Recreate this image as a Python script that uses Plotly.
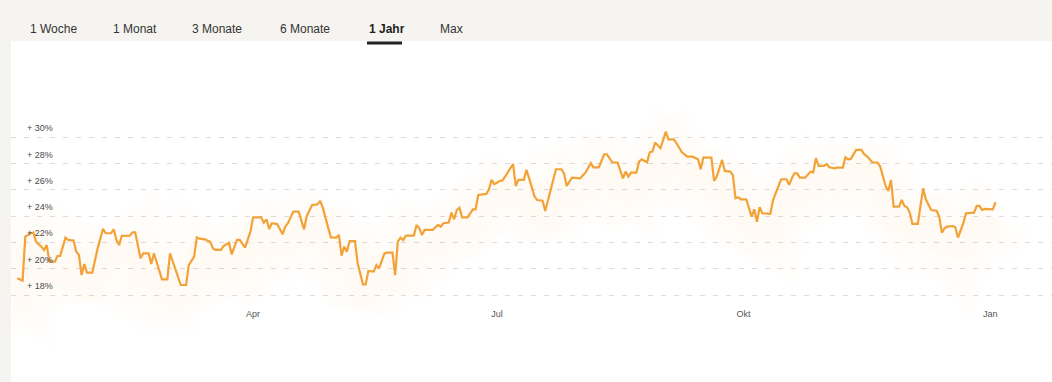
import plotly.graph_objects as go

dates = [
    "2024-01-04", "2024-01-06", "2024-01-07", "2024-01-09", "2024-01-10", "2024-01-11", "2024-01-13",
    "2024-01-14", "2024-01-15", "2024-01-16", "2024-01-18", "2024-01-19", "2024-01-20", "2024-01-22",
    "2024-01-23", "2024-01-25", "2024-01-26", "2024-01-27", "2024-01-28", "2024-01-29", "2024-01-30",
    "2024-02-01", "2024-02-03", "2024-02-05", "2024-02-06", "2024-02-08", "2024-02-09", "2024-02-10",
    "2024-02-11", "2024-02-12", "2024-02-15", "2024-02-16", "2024-02-17", "2024-02-19", "2024-02-20",
    "2024-02-22", "2024-02-23", "2024-02-24", "2024-02-27", "2024-02-29", "2024-03-01", "2024-03-02",
    "2024-03-05", "2024-03-07", "2024-03-08", "2024-03-10", "2024-03-11", "2024-03-12", "2024-03-14",
    "2024-03-16", "2024-03-17", "2024-03-18", "2024-03-20", "2024-03-21", "2024-03-23", "2024-03-24",
    "2024-03-26", "2024-03-27", "2024-03-29", "2024-03-31", "2024-04-01", "2024-04-04",
    "2024-04-05", "2024-04-06", "2024-04-07", "2024-04-08", "2024-04-10", "2024-04-12", "2024-04-13",
    "2024-04-14", "2024-04-16", "2024-04-18", "2024-04-20", "2024-04-21", "2024-04-23", "2024-04-25",
    "2024-04-26", "2024-04-27", "2024-04-29", "2024-04-30", "2024-05-02", "2024-05-03", "2024-05-04",
    "2024-05-05", "2024-05-06", "2024-05-07", "2024-05-09", "2024-05-10", "2024-05-12", "2024-05-13",
    "2024-05-14", "2024-05-16", "2024-05-17", "2024-05-18", "2024-05-20", "2024-05-21", "2024-05-23",
    "2024-05-24", "2024-05-25", "2024-05-26", "2024-05-27", "2024-05-28", "2024-05-31", "2024-06-01",
    "2024-06-02", "2024-06-03", "2024-06-04", "2024-06-07", "2024-06-08", "2024-06-09", "2024-06-10",
    "2024-06-11", "2024-06-13", "2024-06-14", "2024-06-15", "2024-06-16", "2024-06-17", "2024-06-18",
    "2024-06-20", "2024-06-22", "2024-06-23", "2024-06-24", "2024-06-27", "2024-06-28", "2024-06-29",
    "2024-06-30", "2024-07-02", "2024-07-03", "2024-07-04", "2024-07-06", "2024-07-07", "2024-07-08",
    "2024-07-09", "2024-07-11", "2024-07-12", "2024-07-13", "2024-07-15", "2024-07-16", "2024-07-18",
    "2024-07-19", "2024-07-21", "2024-07-23", "2024-07-25", "2024-07-26", "2024-07-27", "2024-07-28",
    "2024-07-29", "2024-08-01", "2024-08-02", "2024-08-03", "2024-08-05", "2024-08-06", "2024-08-08",
    "2024-08-10", "2024-08-11", "2024-08-12", "2024-08-13", "2024-08-15", "2024-08-16", "2024-08-17",
    "2024-08-18", "2024-08-19", "2024-08-20", "2024-08-22", "2024-08-23", "2024-08-24", "2024-08-26",
    "2024-08-27", "2024-08-28", "2024-08-29", "2024-08-31", "2024-09-02", "2024-09-03", "2024-09-05",
    "2024-09-06", "2024-09-08", "2024-09-10", "2024-09-12", "2024-09-14", "2024-09-15", "2024-09-16",
    "2024-09-19", "2024-09-20", "2024-09-21", "2024-09-23", "2024-09-24", "2024-09-26", "2024-09-27",
    "2024-09-28", "2024-09-29", "2024-09-30", "2024-10-02", "2024-10-04", "2024-10-05", "2024-10-06",
    "2024-10-07", "2024-10-08", "2024-10-11", "2024-10-12", "2024-10-14", "2024-10-15", "2024-10-17",
    "2024-10-18", "2024-10-19", "2024-10-20", "2024-10-21", "2024-10-22", "2024-10-24", "2024-10-25",
    "2024-10-26", "2024-10-27", "2024-10-28", "2024-10-29", "2024-10-31", "2024-11-01", "2024-11-02",
    "2024-11-04", "2024-11-05", "2024-11-07", "2024-11-08", "2024-11-09", "2024-11-10", "2024-11-12",
    "2024-11-14", "2024-11-15", "2024-11-16", "2024-11-18", "2024-11-20", "2024-11-21", "2024-11-22",
    "2024-11-23", "2024-11-24", "2024-11-25", "2024-11-26", "2024-11-28", "2024-11-29", "2024-11-30",
    "2024-12-01", "2024-12-02", "2024-12-03", "2024-12-05", "2024-12-07", "2024-12-08", "2024-12-10",
    "2024-12-12", "2024-12-13", "2024-12-14", "2024-12-15", "2024-12-16", "2024-12-18", "2024-12-19",
    "2024-12-20", "2024-12-22", "2024-12-23", "2024-12-25", "2024-12-26", "2024-12-27", "2024-12-28",
    "2024-12-29", "2024-12-30", "2025-01-02", "2025-01-03",
]

values = [
    19.27, 19.10, 22.44, 22.70, 22.75, 22.06, 21.68,
    21.43, 21.80, 20.54, 20.54, 20.97, 20.97, 22.37,
    22.19, 22.14, 21.30, 21.05, 19.52, 20.36, 19.70,
    19.70, 21.55, 23.03, 22.70, 22.70, 23.00, 22.19,
    21.80, 22.50, 22.52, 22.77, 22.77, 20.79, 21.17,
    21.17, 20.36, 21.17, 19.19, 19.19, 21.17, 20.54,
    18.76, 18.76, 20.28, 20.92, 22.39, 22.29, 22.24,
    22.04, 21.55, 21.43, 21.43, 21.73, 21.98, 21.10,
    22.19, 22.19, 21.60, 22.82, 23.91, 23.91,
    23.50, 23.76, 23.03, 23.46, 23.40, 22.62, 23.20,
    23.46, 24.35, 24.35, 23.00, 24.00, 24.85, 24.90,
    25.16, 24.65, 23.20, 22.39, 22.37, 22.57, 21.00,
    21.68, 21.30, 22.11, 22.11, 20.41, 18.81, 18.81,
    19.83, 19.78, 20.28, 20.03, 21.17, 21.22, 21.22,
    19.52, 22.06, 22.37, 22.19, 22.52, 22.52, 23.33,
    23.08, 22.57, 22.95, 22.95, 23.15, 23.33, 23.20,
    23.46, 23.51, 24.27, 23.76, 24.47, 24.65, 23.91,
    23.91, 24.52, 24.52, 25.61, 25.69, 26.05, 26.76,
    26.43, 26.68, 26.70, 27.00, 27.64, 27.97, 26.30,
    26.76, 26.76, 27.52, 26.88, 25.49, 25.23, 25.18,
    24.40, 26.00, 27.57, 27.57, 27.26, 26.30, 26.63,
    26.93, 26.88, 27.06, 27.31, 28.03, 27.72, 27.72,
    28.71, 28.71, 28.41, 28.10, 28.08, 27.52, 26.88,
    27.39, 27.01, 27.31, 27.31, 28.15, 28.33, 28.10,
    28.86, 28.91, 29.60, 29.17, 30.44, 29.85, 29.85,
    29.55, 28.86, 28.53, 28.53, 28.33, 27.57, 28.46,
    28.46, 26.68, 27.01, 28.28, 27.44, 27.39, 27.14,
    25.36, 25.44, 25.28, 25.28, 23.96, 24.52, 23.58,
    24.68, 24.22, 24.17, 25.23, 26.30, 26.81, 26.81,
    26.38, 26.88, 27.26, 27.26, 26.93, 26.93, 27.19,
    27.39, 27.34, 28.41, 27.82, 27.82, 27.97, 27.72,
    27.64, 27.70, 27.70, 28.48, 28.33, 28.36, 29.04,
    29.04, 28.71, 28.58, 28.10, 28.08, 27.77, 27.06,
    26.30, 25.92, 26.76, 24.73, 24.73, 25.23, 24.78,
    24.68, 24.27, 23.41, 23.41, 26.12, 25.28, 24.47,
    24.42, 23.96, 22.75, 23.08, 23.20, 23.25, 23.15,
    22.37, 23.46, 24.22, 24.27, 24.27, 24.78, 24.78,
    24.47, 24.55, 24.52, 25.06,
]

y_ticks = [18, 20, 22, 24, 26, 28, 30]
y_tick_labels = ["+ 18%", "+ 20%", "+ 22%", "+ 24%", "+ 26%", "+ 28%", "+ 30%"]

x_ticks = ["2024-04-01", "2024-07-01", "2024-10-01", "2025-01-01"]
x_tick_labels = ["Apr", "Jul", "Okt", "Jan"]

tabs = ["1 Woche", "1 Monat", "3 Monate", "6 Monate", "1 Jahr", "Max"]
active_tab = "1 Jahr"

W, H = 1052, 382
LINE = "rgb(242,162,54)"
Y_RANGE = [11.38, 37.33]
X_RANGE = ["2024-01-01 16:00", "2025-01-24 02:00"]
GLOW_SHIFT = 1.2
FONT = "Liberation Sans, Arial, sans-serif"

fig = go.Figure()

# soft glow (drawn on a shifted overlay axis so it sits slightly below the line)
for w, a in [(70, 0.015), (50, 0.018), (34, 0.02), (20, 0.025)]:
    fig.add_trace(go.Scatter(
        x=dates, y=values, mode="lines", yaxis="y2",
        line=dict(color=f"rgba(250,185,110,{a})", width=w),
        hoverinfo="skip", showlegend=False,
    ))

fig.add_trace(go.Scatter(
    x=dates, y=values, mode="lines",
    line=dict(color=LINE, width=2.2),
    showlegend=False,
))

annotations = []
for v, t in zip(y_ticks, y_tick_labels):
    annotations.append(dict(
        x=(25 - 11) / (W - 11), xref="paper", xanchor="left",
        y=v, yref="y", yanchor="middle", yshift=9,
        text=t, showarrow=False,
        font=dict(family=FONT, size=9, color="#4a4a4a"),
    ))

tab_x = [28, 111, 190, 278, 367, 438]
for px, t in zip(tab_x, tabs):
    annotations.append(dict(
        x=(px - 11) / (W - 11), xref="paper", xanchor="left",
        y=(H - 29) / (H - 41), yref="paper", yanchor="middle",
        text=f"<b>{t}</b>" if t == active_tab else t, showarrow=False,
        font=dict(family=FONT, size=12,
                  color="#1e1e1e" if t == active_tab else "#333333"),
    ))

shapes = [dict(
    type="rect", xref="paper", yref="paper",
    x0=(367 - 11) / (W - 11), x1=(402 - 11) / (W - 11),
    y0=(H - 44.5) / (H - 41), y1=(H - 41.5) / (H - 41),
    fillcolor="#222222", line=dict(width=0),
)]

fig.update_layout(
    width=W, height=H,
    margin=dict(l=11, r=0, t=41, b=0),
    paper_bgcolor="#f6f4f0",
    plot_bgcolor="#ffffff",
    annotations=annotations,
    shapes=shapes,
    xaxis=dict(
        type="date", range=X_RANGE,
        tickvals=x_ticks, ticktext=x_tick_labels,
        showgrid=False, zeroline=False, showline=False, ticks="",
        anchor="free", position=(H - 307) / (H - 41),
        tickfont=dict(family=FONT, size=9, color="#555555"),
    ),
    yaxis=dict(
        range=Y_RANGE, tickvals=y_ticks, showticklabels=False,
        showgrid=True, gridcolor="#dddddd", griddash="5px,8px", gridwidth=1,
        zeroline=False, showline=False, ticks="",
    ),
    yaxis2=dict(
        range=[Y_RANGE[0] + GLOW_SHIFT, Y_RANGE[1] + GLOW_SHIFT],
        overlaying="y", showgrid=False, showticklabels=False, zeroline=False,
        visible=False,
    ),
    hovermode=False,
)

fig.write_html(
    "out.html",
    config={"displayModeBar": False},
    post_script="document.body.style.margin='0';document.body.style.overflow='hidden';",
)
